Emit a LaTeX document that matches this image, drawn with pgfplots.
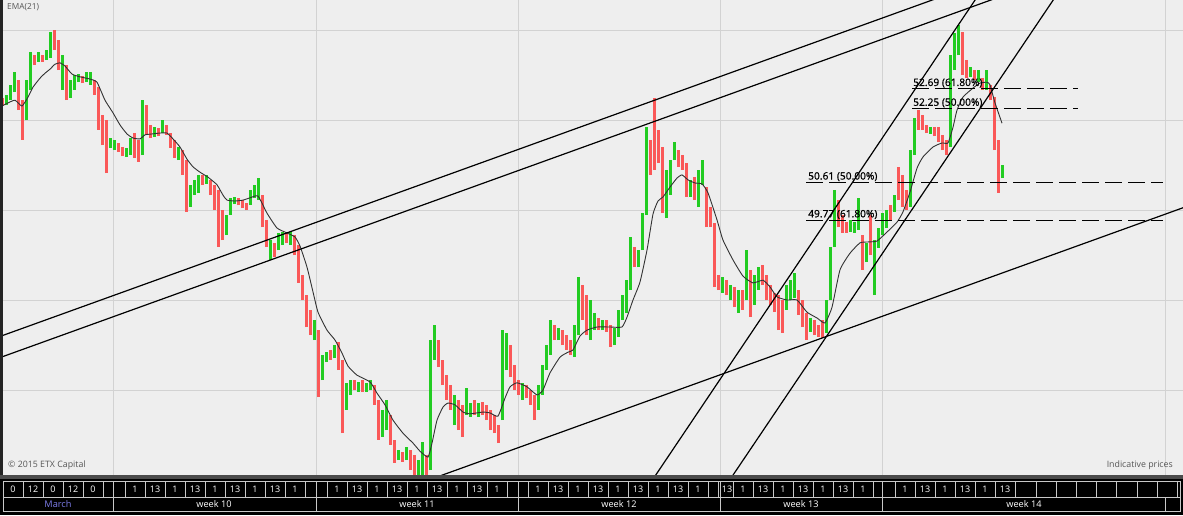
\documentclass[border=0pt]{standalone}
\usepackage{pgfplots}
\pgfplotsset{compat=1.18}
\usepackage{pgfplotstable}
\usepackage{fontspec}
\setmainfont{Open Sans}
\newfontfamily\labfont[FakeBold=1.0]{Open Sans}
\definecolor{bgc}{RGB}{238,238,238}
\definecolor{gridc}{RGB}{210,210,210}
\definecolor{upc}{RGB}{34,204,34}
\definecolor{dnc}{RGB}{250,88,88}
\definecolor{emac}{RGB}{50,50,50}
\definecolor{txtc}{RGB}{85,85,85}
\definecolor{marchc}{RGB}{125,125,235}
\definecolor{cellc}{RGB}{200,200,200}
\definecolor{sepc}{RGB}{75,75,75}
\definecolor{edgec}{RGB}{35,35,35}

% up (green) candles: x, low, high
\pgfplotstableread{
x lo hi
6 52.33 52.56
10 52.44 52.78
14 52.62 53.07
26 52.00 52.89
30 52.67 53.51
38 53.29 53.51
46 53.33 53.56
50 53.38 53.96
62 52.67 53.44
70 52.49 52.89
74 52.67 53.00
78 52.84 53.02
86 52.84 53.07
90 52.78 53.07
110 51.38 51.60
114 51.33 51.56
126 51.18 51.38
130 51.22 51.60
142 51.22 52.44
154 51.62 51.84
162 51.71 52.00
178 51.11 51.40
190 50.07 50.56
194 50.33 50.67
198 50.38 50.78
206 50.58 50.78
226 49.44 49.89
230 49.89 50.27
234 50.13 50.29
250 50.11 50.44
254 50.27 50.56
258 50.22 50.71
270 48.89 49.33
278 49.11 49.49
282 49.22 49.51
290 49.22 49.51
314 47.11 47.56
322 46.22 46.78
326 46.62 46.84
334 46.71 47.00
346 45.56 46.16
350 45.89 46.22
358 45.96 46.18
366 45.96 46.16
370 46.00 46.22
382 44.96 45.56
386 45.11 45.78
398 44.44 44.67
406 44.44 44.73
418 44.09 44.44
422 44.09 44.84
430 44.22 47.11
434 46.67 47.44
454 45.22 45.89
466 45.44 46.04
470 45.40 45.71
478 45.40 45.71
502 45.33 47.33
506 46.44 47.27
522 45.78 46.16
538 45.56 46.11
542 45.89 46.56
546 46.44 47.00
550 46.78 47.56
558 47.11 47.38
574 46.73 47.44
578 47.22 48.51
590 47.11 48.00
594 47.33 47.71
602 47.33 47.56
614 47.00 47.38
618 47.18 47.78
622 47.56 48.11
626 47.71 48.44
630 48.22 49.40
638 48.73 49.11
642 49.11 49.93
646 49.89 51.84
666 49.82 50.89
670 50.33 51.11
674 51.11 51.51
690 50.29 50.67
698 50.07 50.89
702 50.56 51.11
722 48.16 48.51
730 48.00 48.33
738 47.71 48.22
746 48.00 49.11
754 47.89 48.56
758 48.22 48.73
786 47.78 48.33
790 48.00 48.44
794 48.04 48.60
810 47.29 47.60
826 47.27 48.00
830 48.00 49.18
834 49.18 50.44
850 49.51 49.78
854 49.49 49.73
858 49.56 50.27
866 48.84 49.27
874 48.11 49.33
878 49.16 49.60
882 49.44 49.93
886 49.60 50.00
894 49.96 50.33
910 50.07 51.33
914 51.22 52.04
930 51.69 51.84
950 51.40 53.44
954 53.11 53.93
958 53.44 54.11
970 52.96 53.18
978 52.84 53.11
986 52.67 53.11
1002 50.71 51.00
}\candup

% down (red) candles: x, low, high
\pgfplotstableread{
x lo hi
2 52.31 52.49
18 52.22 52.89
22 51.56 52.44
34 53.22 53.44
42 53.29 53.44
54 53.56 54.00
58 53.11 53.78
66 52.44 53.22
82 52.82 52.98
94 52.56 52.89
98 51.78 52.73
102 51.44 52.11
106 50.82 52.00
118 51.29 51.49
122 51.20 51.40
134 51.16 51.71
138 51.07 51.56
146 51.67 52.33
150 51.60 51.89
158 51.64 51.82
166 51.67 51.89
170 51.38 51.71
174 51.16 51.56
182 50.78 51.33
186 49.96 51.11
202 50.56 50.78
210 50.33 50.67
214 50.00 50.56
218 49.18 50.44
222 49.33 50.00
238 50.11 50.27
242 50.04 50.22
246 50.00 50.16
262 49.62 50.33
266 49.18 49.78
274 48.96 49.27
286 49.27 49.49
294 49.00 49.44
298 48.38 49.22
302 48.00 48.56
306 47.40 48.11
310 47.22 47.78
318 45.84 47.33
330 46.67 46.89
338 46.44 47.07
342 45.04 46.67
354 46.00 46.22
362 45.96 46.22
374 45.67 46.11
378 44.89 45.78
390 44.78 45.44
394 44.38 44.89
402 44.40 44.62
410 44.22 44.67
414 44.11 44.56
426 44.09 44.56
438 46.51 47.11
442 46.11 46.67
446 45.78 46.33
450 45.56 46.11
458 45.11 45.78
462 44.96 45.67
474 45.44 45.78
482 45.44 45.73
486 45.33 45.67
490 45.11 45.56
494 45.04 45.44
498 44.82 45.22
510 46.29 47.00
514 46.00 46.56
518 45.89 46.22
526 45.82 46.11
530 45.67 46.00
534 45.33 45.89
554 47.11 47.44
562 47.00 47.33
566 46.89 47.22
570 46.78 47.11
582 47.56 48.33
586 47.22 48.11
598 47.33 47.60
606 47.29 47.56
610 46.96 47.44
634 48.73 49.18
650 50.78 51.56
654 50.89 52.49
658 51.04 51.78
662 49.93 51.40
678 50.96 51.33
682 50.89 51.22
686 50.29 51.04
694 50.22 50.73
706 49.62 50.51
710 49.62 50.07
714 48.29 49.71
718 48.22 48.56
726 48.11 48.44
734 47.84 48.29
742 47.78 48.22
750 47.62 48.67
762 48.33 48.78
766 48.00 48.56
770 47.89 48.33
774 47.73 48.16
778 47.33 48.11
782 47.27 48.00
798 47.67 48.22
802 47.40 48.00
806 47.11 47.71
814 47.22 47.56
818 47.18 47.44
822 47.16 47.56
838 49.62 50.22
842 49.49 49.89
846 49.49 49.73
862 48.67 49.44
870 49.00 49.89
890 49.78 50.11
898 50.22 50.96
902 50.07 50.78
906 50.00 50.44
918 51.78 52.22
922 51.78 52.11
926 51.71 51.89
934 51.64 51.84
938 51.51 51.84
942 51.33 51.67
946 51.22 51.56
962 53.00 53.96
966 52.93 53.33
974 52.89 53.11
982 52.67 52.93
990 52.44 52.78
994 51.33 52.51
998 50.38 51.56
}\canddn

% EMA(21)
\pgfplotstableread{
x y
0 52.29
8 52.38
15 52.44
22 52.31
28 52.51
33 52.73
40 52.93
45 53.04
50 53.13
55 53.24
60 53.27
65 53.20
72 53.02
80 52.96
90 52.91
97 52.84
105 52.44
113 52.16
120 51.89
127 51.69
133 51.60
140 51.58
145 51.67
152 51.69
160 51.71
167 51.71
173 51.58
180 51.40
187 51.13
193 50.96
200 50.84
208 50.73
217 50.56
223 50.33
227 50.22
235 50.20
243 50.22
250 50.27
258 50.31
267 49.93
277 49.60
287 49.49
295 49.40
300 49.20
307 48.73
313 48.18
318 47.73
327 47.33
335 47.11
342 46.82
348 46.53
357 46.33
370 46.18
377 45.93
385 45.67
393 45.33
403 45.04
413 44.82
420 44.64
428 44.51
432 44.82
437 45.33
443 45.62
448 45.71
455 45.67
463 45.51
470 45.47
483 45.51
490 45.49
498 45.42
505 45.82
510 46.07
517 46.16
527 46.07
537 45.89
543 46.00
550 46.38
560 46.73
568 46.84
573 46.89
580 47.20
587 47.33
597 47.40
610 47.40
622 47.40
627 47.62
633 48.00
640 48.40
647 49.11
653 49.91
658 50.20
663 50.29
670 50.51
677 50.71
682 50.78
688 50.67
695 50.60
702 50.58
708 50.38
717 49.78
723 49.33
733 48.89
743 48.53
753 48.38
763 48.44
770 48.29
777 48.07
787 48.00
797 48.00
807 47.73
817 47.60
825 47.49
832 47.84
840 48.67
850 49.04
860 49.27
868 49.29
877 49.31
887 49.51
897 49.73
903 49.96
910 50.40
917 50.93
923 51.18
933 51.40
942 51.49
948 51.49
953 51.84
957 52.22
963 52.51
973 52.71
980 52.82
987 52.84
990 52.78
995 52.38
1002 51.93
}\ema

\begin{document}
\begin{tikzpicture}
\begin{axis}[
  at={(0pt,0pt)}, anchor=south west,
  scale only axis, width=1183pt, height=475pt,
  xmin=0, xmax=1183, ymin=44.111, ymax=54.667,
  axis line style={draw=none},
  axis background/.style={fill=bgc},
  xtick={113,316,518,720,882,1165},
  ytick={46,48,50,52,54},
  xticklabels={}, yticklabels={},
  major tick length=0pt,
  grid=major,
  major grid style={draw=gridc, line width=0.9pt},
]
\addplot[draw=none, forget plot, error bars/.cd, y dir=plus, y explicit, error mark=none,
  error bar style={draw=upc, line width=3.0pt}]
  table[x=x, y=lo, y error expr=\thisrow{hi}-\thisrow{lo}] {\candup};
\addplot[draw=none, forget plot, error bars/.cd, y dir=plus, y explicit, error mark=none,
  error bar style={draw=dnc, line width=3.0pt}]
  table[x=x, y=lo, y error expr=\thisrow{hi}-\thisrow{lo}] {\canddn};
\addplot[emac, line width=0.9pt, smooth, tension=0.3] table[x=x, y=y] {\ema};
% trend lines
\addplot[black, line width=1.2pt] coordinates {(0,47.19) (1000,55.21)};
\addplot[black, line width=1.2pt] coordinates {(0,46.72) (1000,54.74)};
\addplot[black, line width=1.2pt] coordinates {(400,43.77) (1183,50.05)};
\addplot[black, line width=1.2pt] coordinates {(640,43.59) (990,55.16)};
\addplot[black, line width=1.2pt] coordinates {(720,43.68) (1070,55.22)};
% Fibonacci levels
\addplot[black, line width=1.0pt, dash pattern=on 17pt off 6pt] coordinates {(912,52.69) (1078,52.69)};
\addplot[black, line width=1.0pt, dash pattern=on 17pt off 6pt] coordinates {(912,52.25) (1078,52.25)};
\addplot[black, line width=1.0pt, dash pattern=on 17pt off 6pt] coordinates {(806,50.61) (1163,50.61)};
\addplot[black, line width=1.0pt, dash pattern=on 17pt off 6pt] coordinates {(806,49.77) (1163,49.77)};
\node[anchor=base west, inner sep=0pt, yshift=3pt, font=\labfont\fontsize{10.2}{12}\selectfont] at (axis cs:913,52.69) {52.69 (61.80\%)};
\node[anchor=base west, inner sep=0pt, yshift=3pt, font=\labfont\fontsize{10.2}{12}\selectfont] at (axis cs:913,52.25) {52.25 (50.00\%)};
\node[anchor=base west, inner sep=0pt, yshift=3pt, font=\labfont\fontsize{10.2}{12}\selectfont] at (axis cs:808,50.61) {50.61 (50.00\%)};
\node[anchor=base west, inner sep=0pt, yshift=3pt, font=\labfont\fontsize{10.2}{12}\selectfont] at (axis cs:808,49.77) {49.77 (61.80\%)};
\end{axis}
\begin{scope}[x=1pt,y=1pt]
\fill[edgec] (0,0) rectangle (2.5,475);
\node[anchor=west, inner sep=0pt, text=txtc, font=\fontsize{8.3}{10}\selectfont] at (7,468) {EMA(21)};
\node[anchor=west, inner sep=0pt, text=txtc, font=\fontsize{8.8}{10}\selectfont] at (8,10) {© 2015 ETX Capital};
\node[anchor=east, inner sep=0pt, text=txtc, font=\fontsize{8.8}{10}\selectfont] at (1173,10) {Indicative prices};
% time band
\fill[sepc] (0,0) rectangle (1183,-4);
\fill[black] (0,-4) rectangle (1183,-40);
\draw[cellc, line width=0.8pt] (3,-6) rectangle (1180,-22);
\draw[cellc, line width=0.8pt] (3,-22) rectangle (1180,-36.5);
\foreach \bx in {23,43,63,83,103,113,125,145,165,185,205,225,245,265,285,305,316,327,347,367,387,407,427,447,467,487,507,518,528,548,568,588,608,628,648,668,688,708,718,720,733,753,773,793,813,833,853,873,882,895,915,935,955,975,995,1015,1036,1056,1076,1096,1116,1137,1157,1177}
  \draw[cellc, line width=0.8pt] (\bx,-6) -- (\bx,-22);
\foreach \bx in {113,316,518,720,882,1165}
  \draw[cellc, line width=0.8pt] (\bx,-22) -- (\bx,-36.5);
\foreach \cx/\lab in {13/0,33/12,53/0,73/12,93/0,
  135/1,155/13,175/1,195/13,215/1,235/13,255/1,275/13,295/1,
  337/1,357/13,377/1,397/13,417/1,437/13,457/1,477/13,497/1,
  538/1,558/13,578/1,598/13,618/1,638/13,658/1,678/13,698/1,
  727/13,743/1,763/13,783/1,803/13,823/1,843/13,863/1,
  905/1,925/13,945/1,965/13,985/1,1005/13}
  \node[text=white, inner sep=0pt, font=\fontsize{9}{10}\selectfont] at (\cx,-14) {\lab};
\node[text=marchc, inner sep=0pt, font=\fontsize{9.2}{10}\selectfont] at (58,-29.5) {March};
\foreach \cx/\lab in {214/week 10,417/week 11,619/week 12,801/week 13,1024/week 14}
  \node[text=white, inner sep=0pt, font=\fontsize{9.2}{10}\selectfont] at (\cx,-29.5) {\lab};
\end{scope}
\pgfresetboundingbox
\path[use as bounding box] (0pt,-40pt) rectangle (1183pt,475pt);
\end{tikzpicture}
\end{document}
